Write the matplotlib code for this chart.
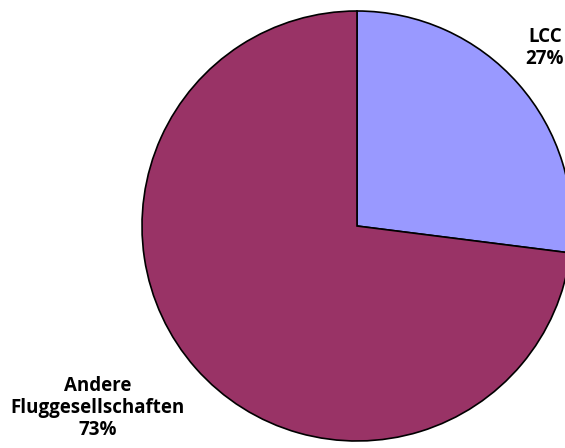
import matplotlib
matplotlib.use("Agg")
import matplotlib.pyplot as plt

categories = ["LCC", "Andere\nFluggesellschaften"]
values = [27, 73]
colors = ["#9999FF", "#993366"]

fig = plt.figure(figsize=(5.65, 4.48), dpi=100)
ax = fig.add_axes([0, 0, 1, 1])
ax.pie(values, colors=colors, startangle=90, counterclock=False,
       radius=215, center=(357, 222), frame=True,
       wedgeprops=dict(edgecolor="black", linewidth=1.2))
ax.set_xlim(0, 565)
ax.set_ylim(0, 448)
ax.set_aspect("equal")
ax.axis("off")

label_pos = [(545, 400), (98, 40)]
for cat, v, (x, y) in zip(categories, values, label_pos):
    ax.text(x, y, f"{cat}\n{v}%", ha="center", va="center",
            fontsize=13.5, fontweight="bold", family=["Open Sans", "DejaVu Sans"],
            linespacing=1.13)

fig.savefig("out.png", dpi=100)
